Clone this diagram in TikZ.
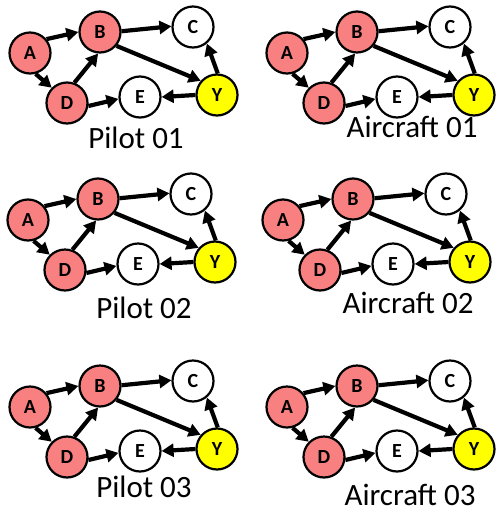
\documentclass[tikz,border=0pt]{standalone}
\usepackage{fontspec}
\setmainfont{Carlito}
\usetikzlibrary{arrows.meta}
\definecolor{nodered}{RGB}{248,128,128}
\definecolor{nodeyellow}{RGB}{255,255,0}
\tikzset{
  gnode/.style={circle, draw=black, line width=2.2pt, minimum size=41pt, inner sep=0pt,
    font=\fontsize{20}{20}\selectfont\bfseries},
  rednode/.style={gnode, fill=nodered},
  whitenode/.style={gnode, fill=white},
  yellownode/.style={gnode, fill=nodeyellow},
  edge/.style={line width=4.2pt, -{Triangle[length=12pt,width=13pt]}},
  caption/.style={font=\fontsize{31}{31}\selectfont, inner sep=0pt, anchor=base}
}
% #1 prefix, #2 x of A, #3 y of A, #4 caption, #5 caption x, #6 caption baseline y
\newcommand\drawpanel[6]{%
  \begin{scope}[shift={(#2,#3)}]
    \node[rednode] (#1A) at (0,0) {A};
    \node[rednode] (#1B) at (70,-21) {B};
    \node[whitenode] (#1C) at (163,-26) {C};
    \node[rednode] (#1D) at (37,50) {D};
    \node[whitenode] (#1E) at (110,44) {E};
    \node[yellownode] (#1Y) at (187,42) {Y};
  \end{scope}
  \draw[edge] (#1A.40) -- (#1B.180);
  \draw[edge] (#1A.-75) -- (#1D.135);
  \draw[edge] (#1D.70) -- (#1B.-95);
  \draw[edge] (#1B.2) -- (#1C.178);
  \draw[edge] (#1B.-40) -- (#1Y.139);
  \draw[edge] (#1D.-8) -- (#1E.185);
  \draw[edge] (#1Y.180) -- (#1E.0);
  \draw[edge] (#1Y.88) -- (#1C.-50);
  \node[caption] (#1L) at (#5,#6) {#4};
}
\begin{document}
\begin{tikzpicture}[x=1pt,y=-1pt]
  \useasboundingbox (0,0) rectangle (497,512);
  \drawpanel{pa}{30}{53}{Pilot 01}{136}{148}
  \drawpanel{pb}{28}{220}{Pilot 02}{144}{318}
  \drawpanel{pc}{30}{407}{Pilot 03}{144}{497}
  \drawpanel{aa}{287}{53}{Aircraft 01}{412}{137}
  \drawpanel{ab}{283}{220}{Aircraft 02}{408}{313}
  \drawpanel{ac}{287}{407}{Aircraft 03}{410}{505}
\end{tikzpicture}
\end{document}
